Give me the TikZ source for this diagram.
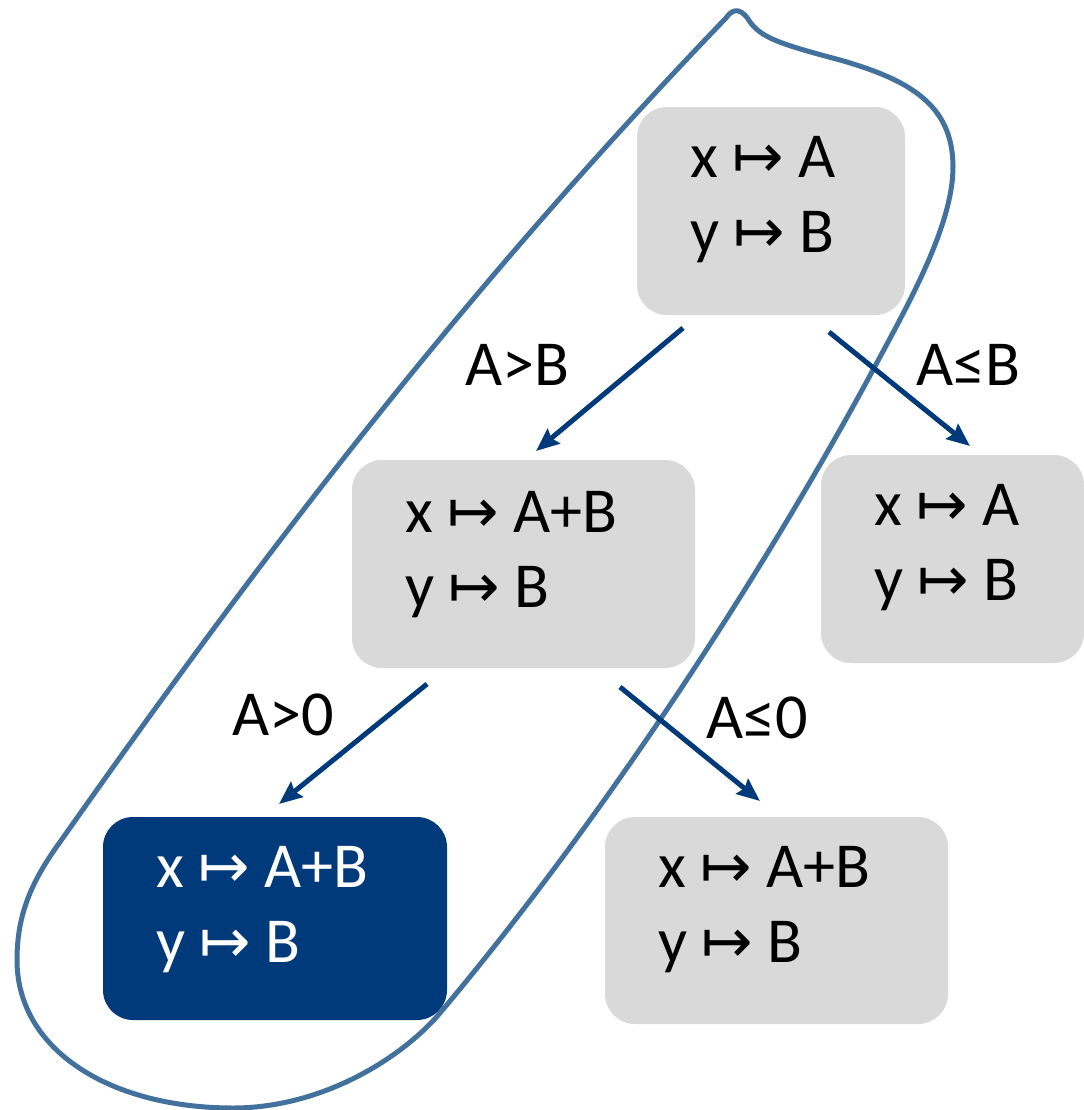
\documentclass[tikz,border=0pt]{standalone}
\usepackage{fontspec}
\setmainfont{Carlito}
\newfontfamily\arrowfont{DejaVu Sans}
\usetikzlibrary{arrows.meta}
\definecolor{boxgray}{HTML}{D9D9D9}
\definecolor{darkbox}{HTML}{003A7A}
\definecolor{arrowblue}{HTML}{003A7A}
\definecolor{loopblue}{HTML}{41719C}
\newcommand\mto{{\arrowfont\fontsize{35}{43}\selectfont ↦}}
\newcommand\stext[2]{\parbox[t]{\dimexpr 0.02cm*#1\relax}{#2}}
\tikzset{
  bigfont/.style={font=\fontsize{36.5}{43}\selectfont},
  statebox/.style n args={3}{rectangle, rounded corners=0.6cm, fill=boxgray, draw=none,
    bigfont, inner ysep=0pt, inner xsep=1.06cm,
    text height=0.78cm, text depth={#3*0.02cm},
    minimum width={#1*0.02cm}, minimum height={#2*0.02cm}},
  darkstate/.style={fill=darkbox, text=white},
  arr/.style={draw=arrowblue, line width=0.1cm,
    -{Stealth[length=0.46cm, width=0.38cm, inset=0.06cm]}},
  lbl/.style={bigfont, anchor=base, inner sep=0pt},
  loop/.style={draw=loopblue, line width=0.1cm, line join=round}
}
\begin{document}
\begin{tikzpicture}[x=0.02cm, y=-0.02cm]
\useasboundingbox (0,0) rectangle (1084,1110);
% boxes
\node[statebox={268}{208}{107}] (top) at (771,211) {\stext{162}{x \mto{} A\\y \mto{} B}};
\node[statebox={343}{208}{103}] (ml) at (523.5,564) {\stext{237}{x \mto{} A+B\\y \mto{} B}};
\node[statebox={263}{208}{107}] (mr) at (952.5,559) {\stext{157}{x \mto{} A\\y \mto{} B}};
\node[statebox={344}{203}{102}, darkstate] (bl) at (275,918.5) {\stext{238}{x \mto{} A+B\\y \mto{} B}};
\node[statebox={343}{207}{106}] (br) at (776.5,920.5) {\stext{237}{x \mto{} A+B\\y \mto{} B}};
% loop
\draw[loop] (726,18)
  .. controls (455,300) and (255,565) .. (60,842)
  .. controls (31,882) and (17,915) .. (17,960)
  .. controls (17,1050) and (110,1108) .. (233,1108)
  .. controls (320,1108) and (400,1060) .. (440,1013)
  .. controls (608,813) and (765,570) .. (873,370)
  .. controls (905,310) and (953,227) .. (953,167)
  .. controls (953,105) and (910,80) .. (840,60)
  .. controls (780,44) and (762,38) .. (750,22)
  .. controls (743,10) and (734,6) .. cycle;
% connector end points
\coordinate (a1s) at (683,328);
\coordinate (a1e) at (536,451);
\coordinate (a2s) at (829,332);
\coordinate (a2e) at (970,446);
\coordinate (a3s) at (427,684);
\coordinate (a3e) at (279,804);
\coordinate (a4s) at (620,687);
\coordinate (a4e) at (760,801);
\draw[arr] (a1s) -- (a1e);
\draw[arr] (a2s) -- (a2e);
\draw[arr] (a3s) -- (a3e);
\draw[arr] (a4s) -- (a4e);
% labels
\node[lbl] (l1) at (517,385) {A>B};
\node[lbl] (l2) at (968,385) {A≤B};
\node[lbl] (l3) at (283,735) {A>0};
\node[lbl] (l4) at (757,738) {A≤0};
\end{tikzpicture}
\end{document}
